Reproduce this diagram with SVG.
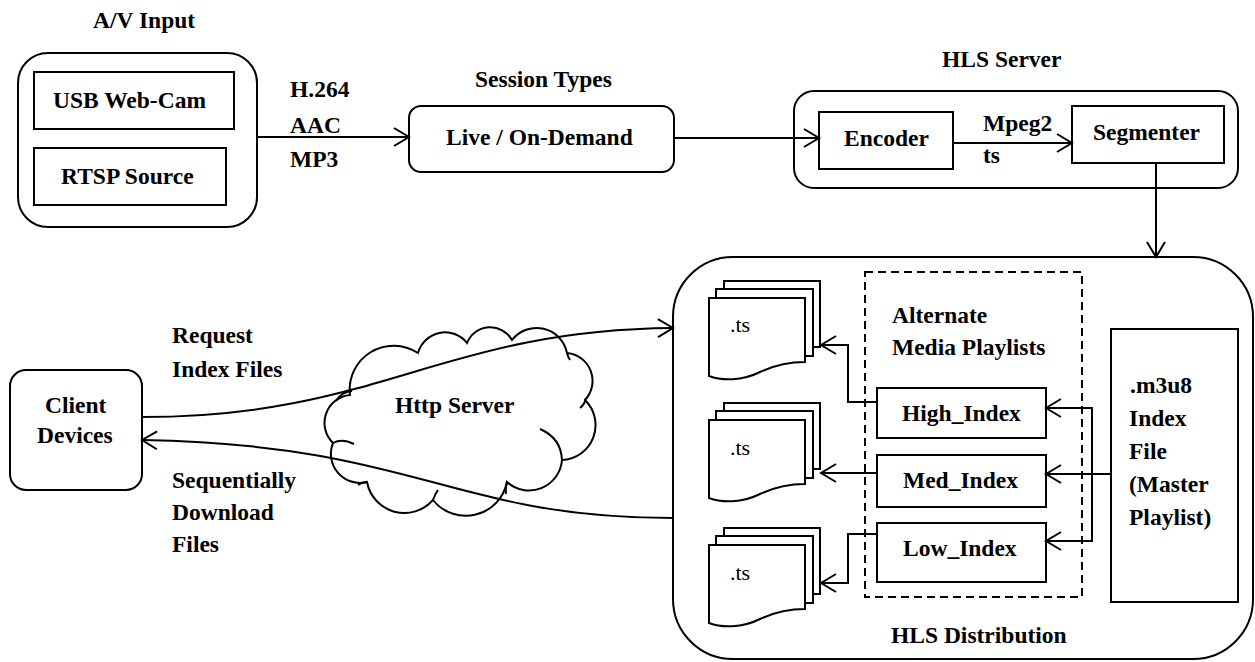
<svg xmlns="http://www.w3.org/2000/svg" xmlns:xlink="http://www.w3.org/1999/xlink" width="1255" height="662" viewBox="0 0 1255 662">
  <style>
    .box { fill: #fff; stroke: #000; stroke-width: 2; }
    .line { fill: none; stroke: #000; stroke-width: 2; }
    .dash { fill: none; stroke: #000; stroke-width: 2; stroke-dasharray: 8 5; }
    .t { font-family: "Liberation Serif", "Times New Roman", serif; font-weight: bold; font-size: 23.5px; fill: #000; }
    .ts { font-family: "Liberation Serif", "Times New Roman", serif; font-size: 22px; fill: #000; }
  </style>
  <defs>
    <marker id="arr" markerWidth="20" markerHeight="20" refX="16" refY="10" orient="auto" markerUnits="userSpaceOnUse" overflow="visible">
      <path d="M1,1 L16,10 L1,19" fill="none" stroke="#000" stroke-width="2"/>
    </marker>
    <!-- stack of three transport-stream pages -->
    <g id="docstack">
      <path class="line" d="M724,289 V281 H820 V347 H813"/>
      <path class="line" d="M716,298 V289 H813 V356 H805"/>
      <path class="box" d="M709,298 H805 V362 C790,362 775,365 760,372 C742,381 722,381 709,376 Z"/>
    </g>
  </defs>

  <rect width="1255" height="662" fill="#fff"/>

  <!-- A/V input -->
  <g id="av-input">
    <text class="t" x="93" y="28">A/V Input</text>
    <rect class="box" x="18" y="53" width="239" height="174" rx="30"/>
  </g>
  <g id="usb-webcam">
    <rect class="box" x="34" y="72" width="200" height="57"/>
    <text class="t" x="53" y="108">USB Web-Cam</text>
  </g>
  <g id="rtsp-source">
    <rect class="box" x="34" y="148" width="192" height="57"/>
    <text class="t" x="61" y="184">RTSP Source</text>
  </g>

  <!-- session types -->
  <g id="session-types">
    <text class="t" x="475" y="87">Session Types</text>
    <rect class="box" x="409" y="106" width="265" height="66" rx="12"/>
    <text class="t" x="446" y="145">Live / On-Demand</text>
  </g>

  <!-- HLS server -->
  <g id="hls-server">
    <text class="t" x="942" y="67">HLS Server</text>
    <rect class="box" x="794" y="91" width="444" height="97" rx="20"/>
  </g>
  <g id="encoder">
    <rect class="box" x="819" y="112" width="134" height="57"/>
    <text class="t" x="844" y="146">Encoder</text>
  </g>
  <g id="segmenter">
    <rect class="box" x="1072" y="106" width="152" height="57"/>
    <text class="t" x="1093" y="140">Segmenter</text>
  </g>

  <!-- HLS distribution -->
  <g id="hls-distribution">
    <rect class="box" x="673" y="257" width="580" height="402" rx="60"/>
    <text class="t" x="891" y="643">HLS Distribution</text>
  </g>
  <g id="alternate-playlists">
    <rect class="dash" x="865" y="272" width="217" height="325"/>
    <text class="t" x="892" y="323">Alternate</text>
    <text class="t" x="892" y="355">Media Playlists</text>
  </g>
  <g id="high-index">
    <rect class="box" x="877" y="388" width="169" height="50"/>
    <text class="t" x="902" y="421">High_Index</text>
  </g>
  <g id="med-index">
    <rect class="box" x="877" y="455" width="169" height="52"/>
    <text class="t" x="903" y="488">Med_Index</text>
  </g>
  <g id="low-index">
    <rect class="box" x="877" y="523" width="169" height="59"/>
    <text class="t" x="903" y="556">Low_Index</text>
  </g>
  <g id="master-playlist">
    <rect class="box" x="1111" y="329" width="127" height="273"/>
    <text class="t" x="1130" y="393">.m3u8</text>
    <text class="t" x="1129" y="426">Index</text>
    <text class="t" x="1129" y="459">File</text>
    <text class="t" x="1129" y="492">(Master</text>
    <text class="t" x="1129" y="525">Playlist)</text>
  </g>
  <g id="ts-high">
    <use xlink:href="#docstack"/>
    <text class="ts" x="730" y="332">.ts</text>
  </g>
  <g id="ts-med">
    <use xlink:href="#docstack" y="122"/>
    <text class="ts" x="730" y="455">.ts</text>
  </g>
  <g id="ts-low">
    <use xlink:href="#docstack" y="247"/>
    <text class="ts" x="730" y="580">.ts</text>
  </g>

  <!-- client side -->
  <g id="client-devices">
    <rect class="box" x="10" y="370" width="132" height="120" rx="16"/>
    <text class="t" x="45" y="413">Client</text>
    <text class="t" x="37" y="443">Devices</text>
  </g>
  <g id="http-server">
    <path class="box" d="M350,395 A44,44 0 0 1 418,353 A28,28 0 0 1 467,343 A25,25 0 0 1 512,340 A31,31 0 0 1 567,353 A28,28 0 0 1 585,400 A35,35 0 0 1 562,460 A33,33 0 0 1 507,482 A42,42 0 0 1 433,500 A38,38 0 0 1 367,482 A29,29 0 0 1 333,443 A28,28 0 0 1 350,395 Z"/>
    <path class="line" d="M336,401 Q341,392 352,391"/>
    <path class="line" d="M333,443 Q342,438 354,444"/>
    <path class="line" d="M540,429 Q561,438 562,460"/>
    <path class="line" d="M580,408 Q585,404 586,398"/>
    <path class="line" d="M367,482 Q362,482 358,485"/>
    <path class="line" d="M507,482 Q505,488 506,494"/>
    <path class="line" d="M433,500 Q435,494 438,490"/>
    <path class="line" d="M567,353 Q568,357 570,360"/>
    <text class="t" x="395" y="413">Http Server</text>
  </g>

  <!-- connectors -->
  <g id="connectors">
    <line class="line" x1="257" y1="137" x2="409" y2="137" marker-end="url(#arr)"/>
    <line class="line" x1="674" y1="138" x2="819" y2="138" marker-end="url(#arr)"/>
    <line class="line" x1="953" y1="143" x2="1072" y2="143" marker-end="url(#arr)"/>
    <line class="line" x1="1156" y1="163" x2="1156" y2="257" marker-end="url(#arr)"/>
    <path class="line" d="M142,417 C380,417 440,330 673,328" marker-end="url(#arr)"/>
    <path class="line" d="M673,518 C450,518 420,445 142,440" marker-end="url(#arr)"/>
    <path class="line" d="M877,402 H848 V345 H821" marker-end="url(#arr)"/>
    <line class="line" x1="877" y1="473" x2="821" y2="473" marker-end="url(#arr)"/>
    <path class="line" d="M877,534 H848 V583 H821" marker-end="url(#arr)"/>
    <line class="line" x1="1111" y1="474" x2="1046" y2="474" marker-end="url(#arr)"/>
    <path class="line" d="M1092,408 H1046" marker-end="url(#arr)"/>
    <path class="line" d="M1092,541 H1046" marker-end="url(#arr)"/>
    <line class="line" x1="1092" y1="407" x2="1092" y2="542"/>
  </g>

  <!-- connector labels -->
  <g id="labels">
    <text class="t" x="290" y="97">H.264</text>
    <text class="t" x="290" y="133">AAC</text>
    <text class="t" x="290" y="167">MP3</text>
    <text class="t" x="983" y="131">Mpeg2</text>
    <text class="t" x="983" y="163">ts</text>
    <text class="t" x="172" y="343">Request</text>
    <text class="t" x="172" y="377">Index Files</text>
    <text class="t" x="172" y="488">Sequentially</text>
    <text class="t" x="172" y="520">Download</text>
    <text class="t" x="172" y="552">Files</text>
  </g>
</svg>
